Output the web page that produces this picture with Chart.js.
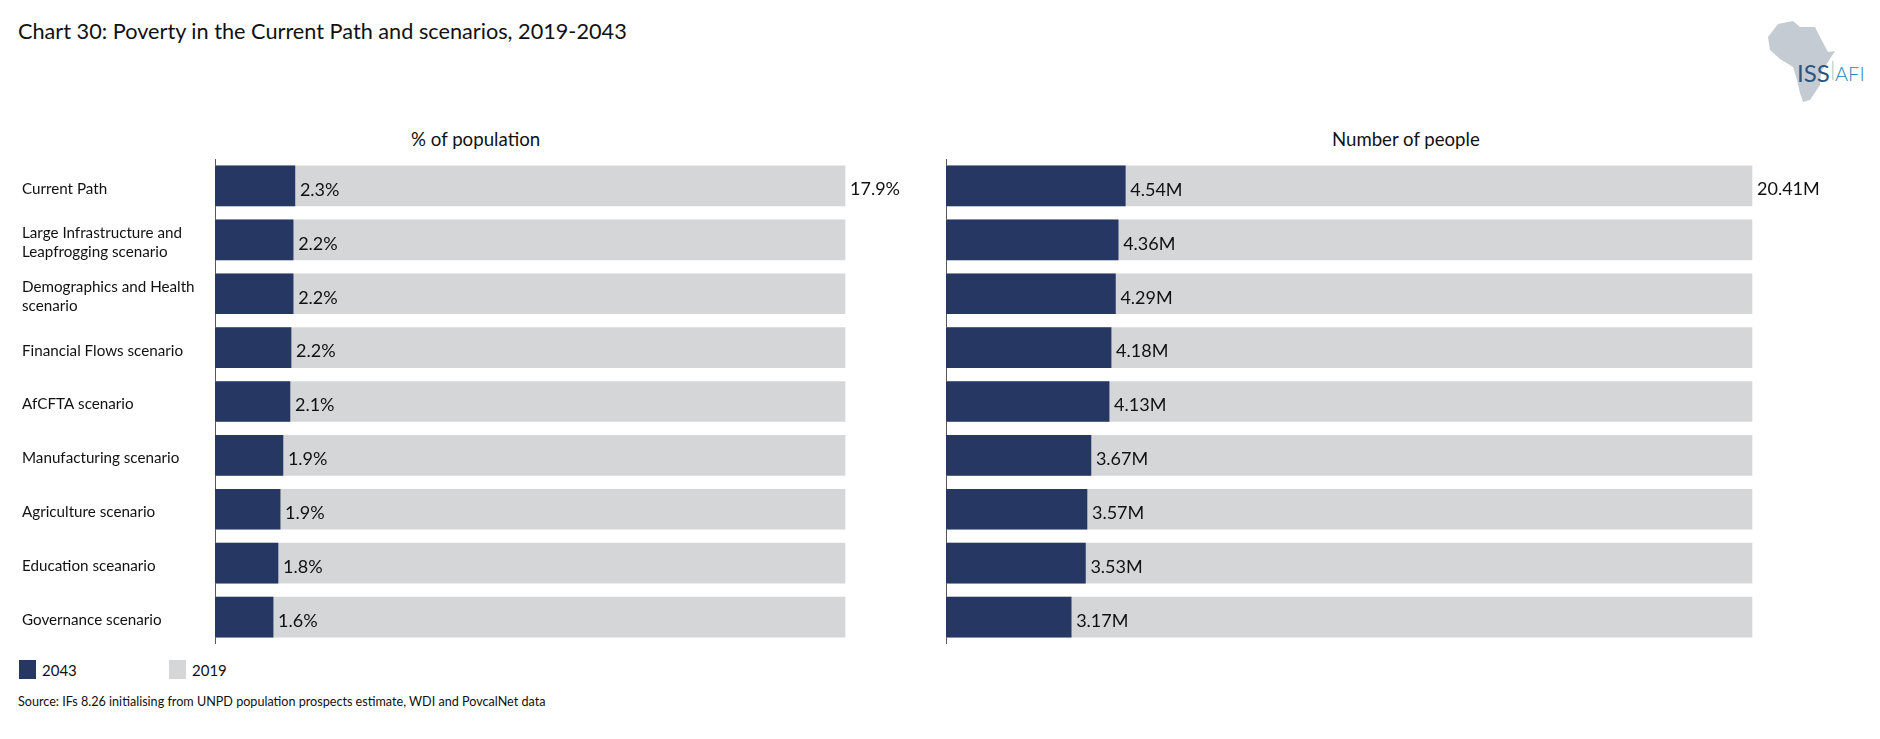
<!DOCTYPE html>
<html>
<head>
<meta charset="utf-8">
<title>Chart 30</title>
<script src="https://cdn.jsdelivr.net/npm/chart.js@4"></script>
<style>
html, body { margin: 0; padding: 0; background: #fff; }
body { position: relative; width: 1880px; height: 739px; overflow: hidden; font-family: Lato, "Open Sans", sans-serif; color: #111; }
.txt { position: absolute; white-space: nowrap; }
canvas { position: absolute; }
.box { position: absolute; width: 17px; height: 19px; }
</style>
</head>
<body>
<div class="txt" style="left:18px;top:18px;font-size:21.7px;">Chart 30: Poverty in the Current Path and scenarios, 2019-2043</div>
<div class="txt" style="left:411px;top:128px;font-size:18.7px;">% of population</div>
<div class="txt" style="left:1332px;top:128px;font-size:18.6px;">Number of people</div>

<svg style="position:absolute;left:1760px;top:15px" width="120" height="95" viewBox="0 0 120 95">
  <polygon fill="#c5cbd3" points="18,9 33,6 40,12 55,12 60,22 68,37 75,36 68,47 61,57 60,70 50,85 43,87 40,78 37,65 33,52 20,44 10,35 8,22"/>
  <rect x="72" y="46" width="1.5" height="19" fill="#c9d8cc"/>
</svg>
<div class="txt" style="left:1797px;top:58px;font-size:24px;color:#2b5480;">ISS</div>
<div class="txt" style="left:1835px;top:61px;font-size:20px;color:#2f84bd;font-weight:300;">AFI</div>

<canvas id="graficoPct" style="left:22px;top:159px"></canvas>
<canvas id="graficoNum" style="left:940px;top:159px"></canvas>

<div class="box" id="box0" style="left:19px;top:660px"></div>
<div class="txt" id="leg0" style="left:42px;top:661px;font-size:15px;"></div>
<div class="box" id="box1" style="left:169px;top:660px"></div>
<div class="txt" id="leg1" style="left:192px;top:661px;font-size:15px;"></div>
<div class="txt" style="left:18px;top:694px;font-size:12.6px;">Source: IFs 8.26 initialising from UNPD population prospects estimate, WDI and PovcalNet data</div>

<script>
const categorias = [
    'Current Path',
    ['Large Infrastructure and', 'Leapfrogging scenario'],
    ['Demographics and Health', 'scenario'],
    'Financial Flows scenario',
    'AfCFTA scenario',
    'Manufacturing scenario',
    'Agriculture scenario',
    'Education sceanario',
    'Governance scenario'
];
const nomeSerie1 = '2043';
const nomeSerie2 = '2019';
const pct2043 = [2.27, 2.22, 2.22, 2.16, 2.13, 1.93, 1.85, 1.79, 1.65];
const pct2019 = [17.9, 17.9, 17.9, 17.9, 17.9, 17.9, 17.9, 17.9, 17.9];
const pctRotulos = ['2.3%', '2.2%', '2.2%', '2.2%', '2.1%', '1.9%', '1.9%', '1.8%', '1.6%'];
const num2043 = [4.54, 4.36, 4.29, 4.18, 4.13, 3.67, 3.57, 3.53, 3.17];
const num2019 = [20.41, 20.41, 20.41, 20.41, 20.41, 20.41, 20.41, 20.41, 20.41];
const numRotulos = ['4.54M', '4.36M', '4.29M', '4.18M', '4.13M', '3.67M', '3.57M', '3.53M', '3.17M'];
const rotuloTopoPct = '17.9%';
const rotuloTopoNum = '20.41M';

const corEscura = '#273763';
const corClara = '#d5d6d8';

document.getElementById('box0').style.background = corEscura;
document.getElementById('box1').style.background = corClara;
document.getElementById('leg0').textContent = nomeSerie1;
document.getElementById('leg1').textContent = nomeSerie2;

// rótulos ao fim das barras
const rotulosPlugin = {
    id: 'rotulos',
    afterDatasetsDraw(chart, args, opts) {
        const ctx = chart.ctx;
        const escuras = chart.getDatasetMeta(0).data;
        const claras = chart.getDatasetMeta(1).data;
        ctx.save();
        ctx.font = '18px Lato, "Open Sans", sans-serif';
        ctx.fillStyle = '#111';
        ctx.textBaseline = 'middle';
        ctx.textAlign = 'left';
        escuras.forEach((bar, i) => {
            ctx.fillText(opts.textos[i], bar.x + 5, bar.y + 4);
        });
        ctx.fillText(opts.topo, claras[0].x + 5, claras[0].y + 3);
        ctx.restore();
    }
};

function criarGrafico(id, largura, altura, esquerda, maximo, serie1, serie2, textos, topo, comRotulos) {
    const canvas = document.getElementById(id);
    canvas.width = largura;
    canvas.height = altura;
    canvas.style.width = largura + 'px';
    canvas.style.height = altura + 'px';
    return new Chart(canvas.getContext('2d'), {
        type: 'bar',
        data: {
            labels: categorias,
            datasets: [
                { label: nomeSerie1, data: serie1, backgroundColor: corEscura, order: 1, barThickness: 40, grouped: false },
                { label: nomeSerie2, data: serie2, backgroundColor: corClara, order: 2, barThickness: 40, grouped: false }
            ]
        },
        options: {
            indexAxis: 'y',
            responsive: false,
            animation: false,
            layout: { padding: 0 },
            scales: {
                x: {
                    display: false,
                    min: 0,
                    max: maximo
                },
                y: {
                    afterFit(scale) {
                        scale.width = esquerda;
                        // sem folga em cima e embaixo por causa dos rótulos de duas linhas
                        scale.paddingTop = 0;
                        scale.paddingBottom = 0;
                        // desce os nomes das categorias 3px
                        if (!scale.rotulosAjustados) {
                            scale.rotulosAjustados = true;
                            const original = scale._computeLabelItems;
                            scale._computeLabelItems = function (area) {
                                const itens = original.call(this, area);
                                itens.forEach(item => { item.options.translation[1] += 3; });
                                return itens;
                            };
                        }
                    },
                    border: { display: true, color: '#595959', width: 1 },
                    grid: { display: false, drawTicks: false },
                    ticks: {
                        display: comRotulos,
                        crossAlign: 'far',
                        autoSkip: false,
                        padding: 0,
                        color: '#111',
                        font: { family: 'Lato, "Open Sans", sans-serif', size: 15.2, lineHeight: 1.22 }
                    }
                }
            },
            plugins: {
                legend: { display: false },
                tooltip: { enabled: false },
                rotulos: { textos: textos, topo: topo }
            }
        },
        plugins: [rotulosPlugin]
    });
}

// 630px = 17.9 e 806px = 20.41, a folga fica para o rótulo de cima
const graficoPct = criarGrafico('graficoPct', 916, 485, 193, 17.9 * 723 / 630, pct2043, pct2019, pctRotulos, rotuloTopoPct, true);
const graficoNum = criarGrafico('graficoNum', 930, 485, 6, 20.41 * 924 / 806, num2043, num2019, numRotulos, rotuloTopoNum, false);
</script>
</body>
</html>
